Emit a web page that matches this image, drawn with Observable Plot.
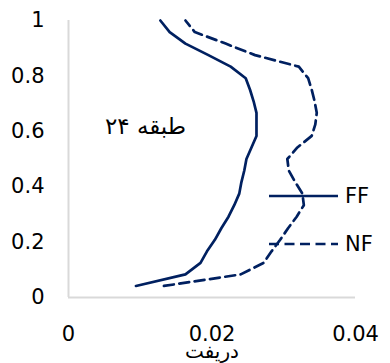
<!DOCTYPE html>
<html>
<head>
<meta charset="utf-8">
<script src="https://cdn.jsdelivr.net/npm/d3@7"></script>
<script src="https://cdn.jsdelivr.net/npm/@observablehq/plot@0.6"></script>
<style>
  body { margin: 0; background: #fff; }
  #wrap { position: relative; width: 390px; height: 363px; font-family: "DejaVu Sans", sans-serif; }
  .leg { position: absolute; left: 269px; display: flex; align-items: center; font-size: 21px; color: #000; }
  .leg span { margin-left: 7px; }
</style>
</head>
<body>
<div id="wrap"></div>
<script>
// Normalized height (story / 24)
const heights = [1,2,3,4,5,6,7,8,9,10,11,12,13,14,15,16,17,18,19,20,21,22,23,24].map(k => k / 24);
// Drift, far-fault (FF)
const ffDrift = [0.0094,0.0163,0.0184,0.0193,0.0204,0.0213,0.0223,0.0231,0.0238,0.0241,0.0245,0.0248,
                 0.0255,0.0262,0.0262,0.0262,0.0258,0.0253,0.0247,0.0226,0.0195,0.0163,0.0141,0.0128];
// Drift, near-fault (NF)
const nfDrift = [0.0133,0.0240,0.0272,0.0283,0.0295,0.0306,0.0318,0.0328,0.0326,0.0316,0.0307,0.0305,
                 0.0319,0.0339,0.0344,0.0346,0.0343,0.0339,0.0334,0.0321,0.0260,0.0219,0.0176,0.0163];
const xTicks = [0, 0.02, 0.04];
const yTicks = [0, 0.2, 0.4, 0.6, 0.8, 1];
const xLabel = "دریفت";
const annotation = "۲۴ طبقه";
const seriesNames = ["FF", "NF"];

const navy = "#002060";
const dashes = "10,5.5";
const ff = heights.map((h, i) => ({h, d: ffDrift[i]}));
const nf = heights.map((h, i) => ({h, d: nfDrift[i]}));

const chart = Plot.plot({
  width: 390,
  height: 363,
  marginLeft: 68,
  marginRight: 35,
  marginTop: 20,
  marginBottom: 66,
  style: {fontFamily: "'DejaVu Sans', sans-serif", color: "#000", background: "transparent"},
  x: {domain: [0, 0.04]},
  y: {domain: [0, 1]},
  marks: [
    Plot.ruleX([0], {y1: 0, y2: 1, stroke: "#d9d9d9", strokeWidth: 2}),
    Plot.ruleY([0], {x1: 0, x2: 0.04, stroke: "#d9d9d9", strokeWidth: 2}),
    Plot.axisX({ticks: xTicks, tickFormat: d => String(d), tickSize: 0, tickPadding: 29, fontSize: 21, label: null}),
    Plot.axisY({ticks: yTicks, tickFormat: d => String(d), tickSize: 0, tickPadding: 24, fontSize: 21, label: null}),
    Plot.line(ff, {x: "d", y: "h", stroke: navy, strokeWidth: 2.7}),
    Plot.line(nf, {x: "d", y: "h", stroke: navy, strokeWidth: 2.7, strokeDasharray: dashes}),
    Plot.text([annotation], {frameAnchor: "top-left", dx: 77, dy: 97, fontSize: 23, textAnchor: "middle", fill: "#000"}),
    Plot.text([xLabel], {frameAnchor: "bottom", dy: 60, fontSize: 20, fill: "#000"})
  ]
});
const wrap = document.getElementById("wrap");
wrap.appendChild(chart);

// Legend overlay
const legendTops = [184, 232];
seriesNames.forEach((name, i) => {
  const div = document.createElement("div");
  div.className = "leg";
  div.style.top = legendTops[i] + "px";
  const dash = i === 1 ? ` stroke-dasharray="${dashes}"` : '';
  div.innerHTML = `<svg width="69" height="24"><line x1="0" x2="69" y1="12" y2="12" stroke="${navy}" stroke-width="2.7"${dash}/></svg><span>${name}</span>`;
  wrap.appendChild(div);
});
</script>
</body>
</html>
